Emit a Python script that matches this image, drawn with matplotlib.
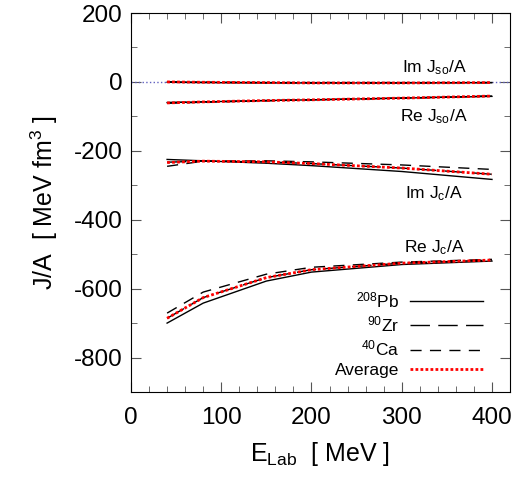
import matplotlib
matplotlib.use("Agg")
import matplotlib.pyplot as plt
from matplotlib.ticker import MultipleLocator

plt.rcParams['font.family'] = ['Liberation Sans', 'DejaVu Sans']
plt.rcParams['mathtext.fontset'] = 'custom'
plt.rcParams['mathtext.rm'] = 'Liberation Sans'
plt.rcParams['mathtext.it'] = 'Liberation Sans:italic'
plt.rcParams['axes.unicode_minus'] = False

# energias (MeV)
e_lab = [40, 80, 150, 200, 300, 400]

# Re Jc/A
re_jc_pb = [-700, -642, -578, -552, -530, -520]
re_jc_zr = [-686, -626, -568, -545, -526, -517]
re_jc_ca = [-671, -610, -558, -538, -523, -515]
re_jc_av = [-686, -626, -568, -545, -526, -517]

# Im Jc/A
im_jc_pb = [-225, -229, -236, -243, -260, -283]
im_jc_zr = [-233, -230, -232, -237, -250, -268]
im_jc_ca = [-245, -230, -229, -232, -241, -254]
im_jc_av = [-234, -230, -232, -237, -250, -268]

# Re Jso/A
re_jso_pb = [-60, -58, -54, -52, -47, -42]
re_jso_zr = [-60, -58, -54, -52, -47, -41]
re_jso_ca = [-62, -59, -55, -52, -47, -41]
re_jso_av = [-61, -58, -54, -52, -47, -41]

# Im Jso/A
im_jso_pb = [-1, -2, -3, -3, -3, -2]
im_jso_zr = [0, -1, -2, -3, -3, -2]
im_jso_ca = [0, -1, -2, -2, -2, -2]
im_jso_av = [0, -1, -2, -3, -3, -2]

nombres = [r'$^{208}$Pb', r'$^{90}$Zr', r'$^{40}$Ca', 'Average']

fig = plt.figure(figsize=(5.19, 4.78), dpi=100)
ax = fig.add_axes([0.2524, 0.1799, 0.7303, 0.7929])

ax.axhline(0, ls=':', color='#6060c0', lw=1)

estilos = [
  dict(color='black', lw=1, ls='-'),
  dict(color='black', lw=1, ls=(0, (14, 6))),
  dict(color='black', lw=1, ls=(0, (8, 6))),
  dict(color='red', lw=2, ls=(0, (1, 0.8))),
]

grupos = [
  [re_jc_pb, re_jc_zr, re_jc_ca, re_jc_av],
  [im_jc_pb, im_jc_zr, im_jc_ca, im_jc_av],
  [re_jso_pb, re_jso_zr, re_jso_ca, re_jso_av],
  [im_jso_pb, im_jso_zr, im_jso_ca, im_jso_av],
]

for g, serie in enumerate(grupos):
  for i in range(4):
    if g == 0:
      ax.plot(e_lab, serie[i], label=nombres[i], **estilos[i])
    else:
      ax.plot(e_lab, serie[i], **estilos[i])

ax.text(336, 40, r'Im J$_{\mathrm{so}}$/A', ha='center', va='center', fontsize=12.5)
ax.text(336, -100, r'Re J$_{\mathrm{so}}$/A', ha='center', va='center', fontsize=12.5)
ax.text(336, -325, r'Im J$_{\mathrm{c}}$/A', ha='center', va='center', fontsize=12.5)
ax.text(336, -480, r'Re J$_{\mathrm{c}}$/A', ha='center', va='center', fontsize=12.5)

ax.set_xlim(0, 420)
ax.set_ylim(-900, 200)
ax.xaxis.set_major_locator(MultipleLocator(100))
ax.xaxis.set_minor_locator(MultipleLocator(20))
ax.yaxis.set_major_locator(MultipleLocator(200))
ax.yaxis.set_minor_locator(MultipleLocator(100))
ax.tick_params(which='both', direction='in', top=True, right=True, labelsize=17.5, color='#555555')
ax.tick_params(which='major', length=7)
ax.tick_params(which='minor', length=4)
ax.tick_params(axis='x', pad=11)
ax.tick_params(axis='y', pad=6)

ax.set_xlabel(r'E$_{\mathrm{Lab}}$  [ MeV ]', fontsize=18, labelpad=8)
ax.set_ylabel(r'J/A  [ MeV fm$^3$ ]', fontsize=18, labelpad=10)

leg = ax.legend(loc='lower right', frameon=False, markerfirst=False, fontsize=12.5,
                handlelength=4.2, handletextpad=0.6, labelspacing=0.25,
                bbox_to_anchor=(0.97, -0.005))

plt.savefig("out.png", dpi=100)
plt.close()
